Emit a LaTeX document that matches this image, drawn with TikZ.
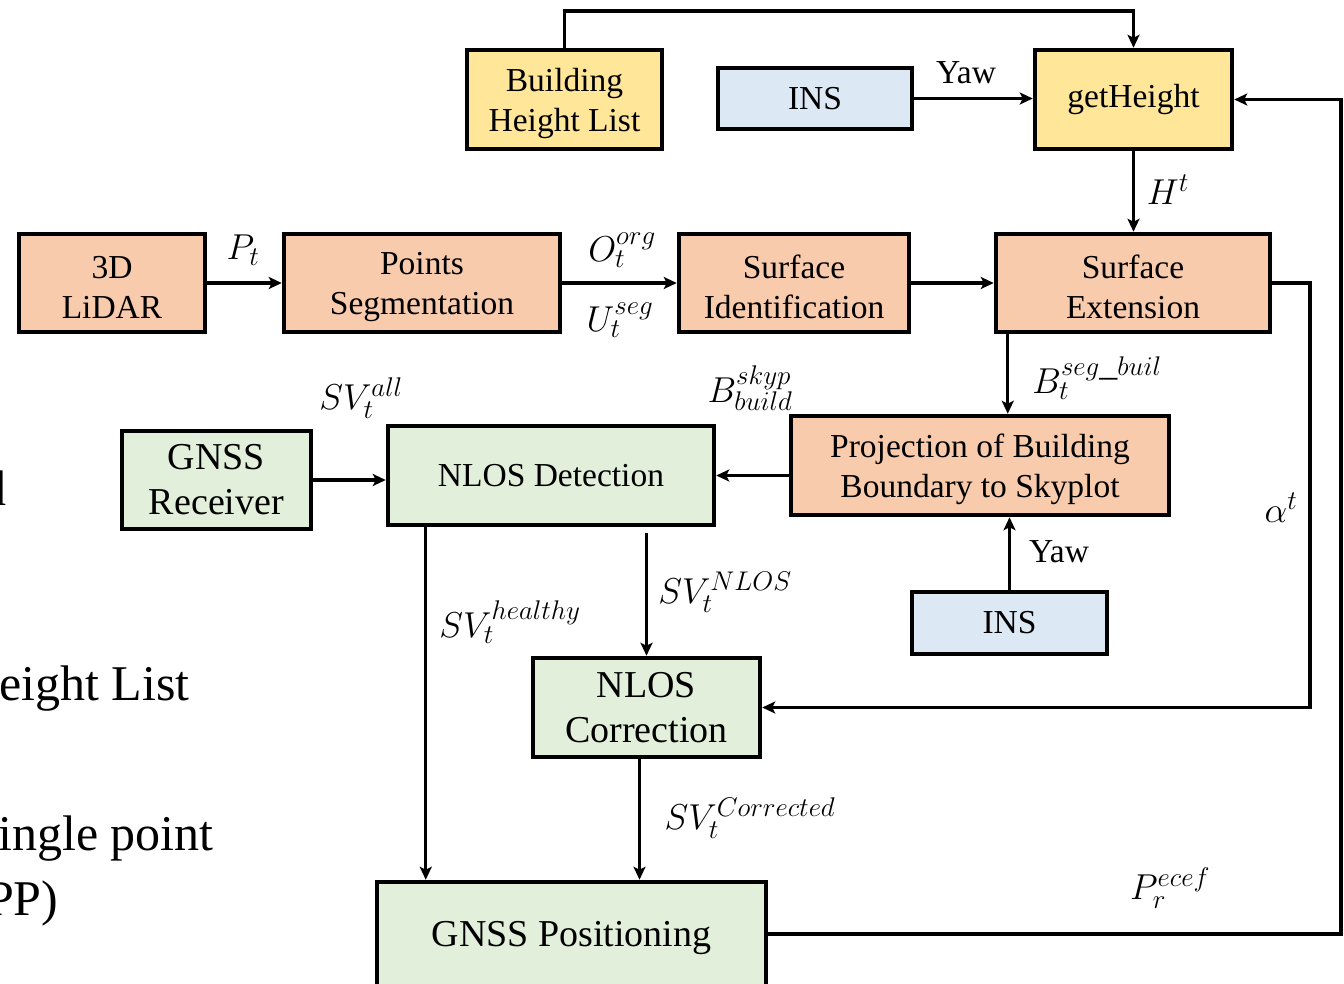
\RequirePackage{fix-cm}
\documentclass[tikz,border=0pt]{standalone}
\usepackage{fontspec}
\setmainfont{Liberation Serif}
\usetikzlibrary{arrows.meta,calc}
\definecolor{cyel}{HTML}{FFE699}
\definecolor{cblu}{HTML}{DDE8F5}
\definecolor{csal}{HTML}{F8CBAD}
\definecolor{cgrn}{HTML}{E2EFDA}
\DeclareMathSizes{36}{36}{27}{21}
\newcommand{\fa}{\fontsize{33.5}{40}\selectfont}
\newcommand{\fb}{\fontsize{38}{45}\selectfont}
\newcommand{\fc}{\fontsize{50}{58}\selectfont}
\newcommand{\fm}{\fontsize{36}{42}\selectfont}
\newcommand{\up}{\rule{0pt}{31pt}}
\begin{document}
\begin{tikzpicture}[x=1pt,y=-1pt,
  box/.style={draw, line width=4.5pt, inner sep=0pt, align=center, font=\fa},
  bigbox/.style={box, font=\fb},
  arr/.style={line width=3.3pt, -{Stealth[length=13pt,width=12pt,inset=3pt]}},
  lbl/.style={inner sep=0pt, font=\fa},
  mlbl/.style={inner sep=0pt, font=\fm},
  side/.style={inner sep=0pt, font=\fc, anchor=base west}]
\useasboundingbox (0,0) rectangle (1344,983);
\clip (0,0) rectangle (1344,983);
\fill[white] (0,0) rectangle (1344,983);

% partial side texts
\node[side] (t1) at (-19,505) {d};
\node[side] (t2) at (-1,700) {eight List};
\node[side] (t3) at (-2,850) {ingle point};
\node[side] (t4) at (-14,915) {PP)};

% boxes
\node[box, fill=cyel, minimum width=195, minimum height=99] (bhl) at (564.5,99.5) {\up Building\\Height List};
\node[box, fill=cblu, minimum width=194, minimum height=61] (ins1) at (815,98.5) {INS};
\node[box, fill=cyel, minimum width=197, minimum height=99] (gh) at (1133.5,99.5) {getHeight};
\node[box, fill=csal, minimum width=186, minimum height=98] (lidar) at (112,283) {\up 3D\\LiDAR};
\node[box, fill=csal, minimum width=276, minimum height=98] (ps) at (422,283) {\up Points\\Segmentation};
\node[box, fill=csal, minimum width=230, minimum height=98] (si) at (794,283) {\up Surface\\Identification};
\node[box, fill=csal, minimum width=274, minimum height=98] (se) at (1133,283) {\up Surface\\Extension};
\node[box, fill=csal, minimum width=378, minimum height=99] (proj) at (980,465.5) {\up Projection of Building\\Boundary to Skyplot};
\node[bigbox, fill=cgrn, minimum width=189, minimum height=98] (grx) at (216.5,480) {GNSS\\Receiver};
\node[box, fill=cgrn, minimum width=326, minimum height=99] (ndet) at (551,475.5) {NLOS Detection};
\node[box, fill=cblu, minimum width=195, minimum height=62] (ins2) at (1009.5,623) {INS};
\node[bigbox, fill=cgrn, minimum width=227, minimum height=99] (ncor) at (646.5,707.5) {NLOS\\Correction};
\node[bigbox, fill=cgrn, minimum width=389, minimum height=112] (gpos) at (571.5,938) {GNSS Positioning};

% corner coordinates
\coordinate (ctop) at (800,11);
\coordinate (cal) at (1310,500);
\coordinate (crr) at (1341,600);

% connectors
\draw[arr] (bhl.north) |- (ctop) -| (gh.north);
\draw[arr] (ins1.east) -- (ins1.east -| gh.west);
\draw[arr] (gh.south) -- (gh.south |- se.north);
\draw[arr] (lidar.east) -- (ps.west);
\draw[arr] (ps.east) -- (si.west);
\draw[arr] (si.east) -- (se.west);
\draw[arr] ([xshift=14pt]se.south west) -- ([xshift=14pt]se.south west |- proj.north);
\draw[arr] (ins2.north) -- (ins2.north |- proj.south);
\draw[arr] (proj.west |- ndet.east) -- (ndet.east);
\draw[arr] (grx.east) -- (grx.east -| ndet.west);
\draw[arr] ([xshift=40pt]ndet.south west) -- ([xshift=40pt]ndet.south west |- gpos.north);
\draw[arr] ([yshift=-6pt]ncor.north |- ndet.south) -- (ncor.north);
\draw[arr] ([xshift=-7pt]ncor.south) -- ([xshift=-7pt]ncor.south |- gpos.north);
\draw[arr] (se.east) -| (cal) |- (ncor.east);
\draw[arr] ([yshift=4pt]gpos.east) -| (crr) |- (gh.east);

% labels
\node[lbl] (lyaw1) at (966,73) {Yaw};
\node[mlbl] (lht) at (1168,190) {$H^t$};
\node[mlbl] (lpt) at (243,250) {$P_t$};
\node[mlbl] (lo) at (622,250) {$O_t^{org}$};
\node[mlbl] (lu) at (620,320) {$U_t^{seg}$};
\node[mlbl] (lbsk) at (750,388) {$B^{skyp}_{build}$};
\node[mlbl] (lbsb) at (1097,378) {$B_t^{seg\_buil}$};
\node[mlbl] (lsva) at (361,398) {$SV_t^{all}$};
\node[mlbl] (lsvh) at (510,622) {$SV_t^{healthy}$};
\node[mlbl] (lsvn) at (725,592) {$SV_t^{NLOS}$};
\node[lbl] (lyaw2) at (1059,552) {Yaw};
\node[mlbl] (lal) at (1281,508) {$\alpha^t$};
\node[mlbl] (lsvc) at (750,818) {$SV_t^{Corrected}$};
\node[mlbl] (lpr) at (1170,888) {$P_r^{ecef}$};
\end{tikzpicture}
\end{document}
